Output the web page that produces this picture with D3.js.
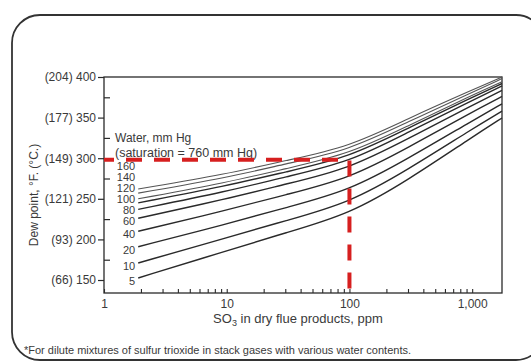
<!DOCTYPE html>
<html>
<head>
<meta charset="utf-8">
<script src="https://cdn.jsdelivr.net/npm/d3@7"></script>
<style>
  body { margin: 0; background: #fff; }
  svg { display: block; font-family: "Liberation Sans", Arial, sans-serif; }
</style>
</head>
<body>
<svg id="chart" width="531" height="363"></svg>
<script>
// SO3 in dry flue products (ppm) where the curves were read
const so3Ppm = [1.9, 10, 30, 100, 300, 1000, 1750];
// water content of each curve, mm Hg
const waterMmHg = [5, 10, 20, 40, 60, 80, 100, 120, 140, 160];
// dew point (deg F), one row per water content
const dewPointF = [
  [152.5, 186, 208, 231, 273, 326, 349.5],
  [171, 202, 223, 245, 286, 336, 358],
  [191, 219, 239, 260, 299.5, 346, 367],
  [210, 236, 255, 275, 313, 357, 376],
  [226, 250, 268, 287, 324, 365, 383.5],
  [237, 259, 277, 295, 332, 371, 389],
  [245, 266, 283, 301, 337, 375, 392],
  [250, 270, 287, 305, 340, 377.5, 394],
  [257, 276, 293, 310, 345, 381, 398],
  [262, 280.5, 297, 314, 349, 384, 400]
];
// y axis ticks, deg F and the matching deg C
const yTicksF = [150, 200, 250, 300, 350, 400];
const yTicksC = [66, 93, 121, 149, 177, 204];
const yMinorF = [175, 225, 275, 325, 375];
const xTicks = [1, 10, 100, 1000];
// red reading lines
const readPpm = 100;
const readDewF = 298;

const svg = d3.select('#chart');
const margin = { left: 104, right: 29, top: 77, bottom: 70 };
const W = 531, H = 363;

const x = d3.scaleLog().domain([1, 1750]).range([margin.left, W - margin.right]);
const y = d3.scaleLinear().domain([134, 400]).range([H - margin.bottom, margin.top]);

// outer frame
svg.append('rect')
  .attr('x', 12).attr('y', 15)
  .attr('width', 532).attr('height', 345)
  .attr('rx', 28)
  .attr('fill', 'none')
  .attr('stroke', '#333')
  .attr('stroke-width', 1.8);

// plot box
svg.append('rect')
  .attr('x', x.range()[0]).attr('y', y.range()[1])
  .attr('width', x.range()[1] - x.range()[0])
  .attr('height', y.range()[0] - y.range()[1])
  .attr('fill', 'none')
  .attr('stroke', '#2a2a2a')
  .attr('stroke-width', 1.3);

// y axis
const yAxis = svg.append('g')
  .attr('transform', `translate(${margin.left},0)`)
  .call(d3.axisLeft(y).tickValues(yTicksF).tickSize(6).tickPadding(2)
    .tickFormat((d, i) => `(${yTicksC[i]}) ${d}`));
yAxis.select('.domain').remove();
yAxis.selectAll('text').attr('font-size', 12).attr('fill', '#3a3a3a');
yAxis.selectAll('line').attr('stroke', '#2a2a2a').attr('stroke-width', 1.2);

const yMinor = svg.append('g')
  .attr('transform', `translate(${margin.left},0)`)
  .call(d3.axisRight(y).tickValues(yMinorF).tickSize(6).tickFormat(''));
yMinor.select('.domain').remove();
yMinor.selectAll('line').attr('stroke', '#2a2a2a').attr('stroke-width', 1.2);

// x axis
const xAxis = svg.append('g')
  .attr('transform', `translate(0,${y.range()[0]})`)
  .call(d3.axisBottom(x).tickValues(xTicks).tickSizeInner(-4).tickSizeOuter(0)
    .tickPadding(6).tickFormat(d3.format(',')));
xAxis.select('.domain').remove();
xAxis.selectAll('text').attr('font-size', 12).attr('fill', '#3a3a3a');
xAxis.selectAll('line').attr('stroke', '#2a2a2a').attr('stroke-width', 1.1);

const xMinor = svg.append('g')
  .attr('transform', `translate(0,${y.range()[0]})`)
  .call(d3.axisBottom(x)
    .tickValues(x.ticks().filter(d => !xTicks.includes(d)))
    .tickSizeInner(-4).tickSizeOuter(0).tickFormat(''));
xMinor.select('.domain').remove();
xMinor.selectAll('line').attr('stroke', '#2a2a2a').attr('stroke-width', 1.1);

// curves
const line = d3.line()
  .x((d, i) => x(so3Ppm[i]))
  .y(d => y(d))
  .curve(d3.curveBasis);

svg.append('g')
  .selectAll('path')
  .data(dewPointF)
  .join('path')
  .attr('d', line)
  .attr('fill', 'none')
  .attr('stroke', (d, i) => i >= 7 ? '#555' : '#2a2a2a')
  .attr('stroke-width', (d, i) => i >= 7 ? 1.1 : 1.4);

// curve labels, pushed apart from the bottom up
let prev = Infinity;
const labelY = dewPointF.map(row => {
  const v = Math.min(y(row[0]) + 3, prev - 11);
  prev = v;
  return v;
});
svg.append('g')
  .selectAll('text')
  .data(waterMmHg)
  .join('text')
  .attr('x', x(so3Ppm[0]) - 3)
  .attr('y', (d, i) => labelY[i])
  .attr('dy', '0.35em')
  .attr('text-anchor', 'end')
  .attr('font-size', 11)
  .attr('fill', '#3a3a3a')
  .text(d => d);

svg.append('text')
  .attr('x', 115).attr('y', y(325)).attr('dy', '0.35em')
  .attr('font-size', 12).attr('fill', '#3a3a3a')
  .text('Water, mm Hg');
svg.append('text')
  .attr('x', 115).attr('y', y(325) + 15).attr('dy', '0.35em')
  .attr('font-size', 12.5).attr('fill', '#3a3a3a')
  .text('(saturation = 760 mm Hg)');

// red reading lines
svg.append('path')
  .attr('d', d3.line()([
    [x(1), y(readDewF)], [x(readPpm), y(readDewF)], [x(readPpm), y.range()[0]]
  ]))
  .attr('fill', 'none')
  .attr('stroke', '#d61f1f')
  .attr('stroke-width', 4)
  .attr('stroke-dasharray', '16,12')
  .attr('stroke-dashoffset', -22);

// axis titles
const xt = svg.append('text')
  .attr('x', 298).attr('y', 323)
  .attr('text-anchor', 'middle')
  .attr('font-size', 13).attr('fill', '#3a3a3a');
xt.append('tspan').text('SO');
xt.append('tspan').attr('font-size', 9).attr('dy', 3).text('3');
xt.append('tspan').attr('dy', -3).text(' in dry flue products, ppm');

svg.append('text')
  .attr('transform', 'translate(38,195) rotate(-90)')
  .attr('text-anchor', 'middle')
  .attr('font-size', 12).attr('fill', '#3a3a3a')
  .text('Dew point, °F. (°C.)');

svg.append('text')
  .attr('x', 24).attr('y', 354)
  .attr('font-size', 11).attr('fill', '#3a3a3a')
  .text('*For dilute mixtures of sulfur trioxide in stack gases with various water contents.');
</script>
</body>
</html>
